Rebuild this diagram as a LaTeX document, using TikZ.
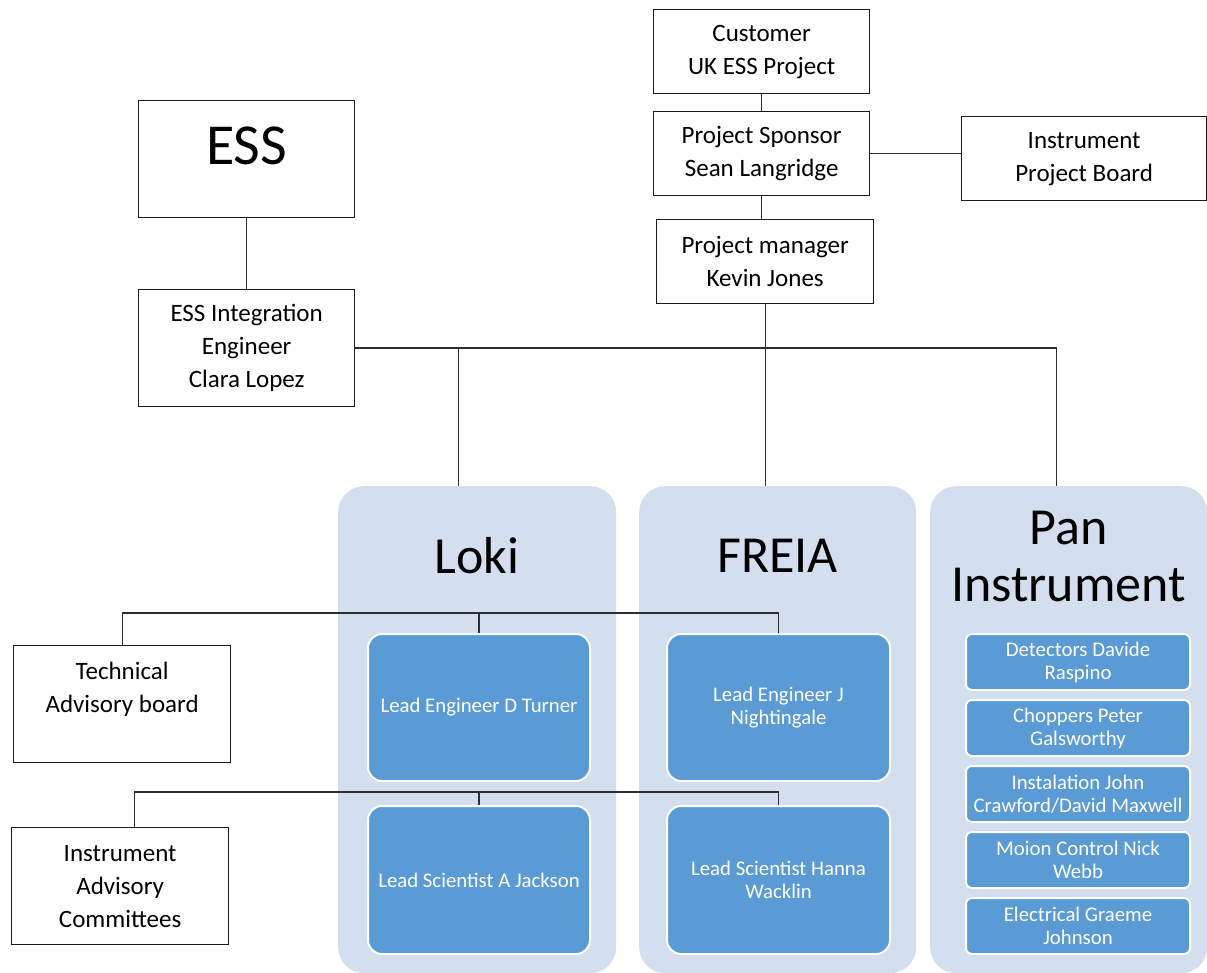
\documentclass[tikz,border=0pt]{standalone}
\usepackage{fontspec}
\setmainfont{Carlito}
\usetikzlibrary{positioning}
\definecolor{panelblue}{HTML}{D3DEEF}
\definecolor{tileblue}{HTML}{5B9BD5}
\definecolor{ink}{HTML}{1A1A1A}
\definecolor{rule}{HTML}{2E2E2E}

\begin{document}
\begin{tikzpicture}[x=1pt,y=-1pt,
    plainbox/.style={draw=ink,line width=1.3pt,fill=white,align=center,inner sep=0pt,
      anchor=north west,font=\fontsize{25}{33}\selectfont},
    panel/.style={fill=panelblue,rounded corners=26pt,inner sep=0pt,anchor=north west},
    tile/.style={fill=tileblue,draw=white,line width=2pt,rounded corners=14pt,align=center,
      text=white,inner sep=0pt,anchor=north west,font=\fontsize{20.8}{23}\selectfont},
    title/.style={font=\fontsize{52}{57}\selectfont,align=center},
    wire/.style={draw=rule,line width=1.3pt}]
    \useasboundingbox (0,0) rectangle (1207,973);

    % the three instrument panels, cut by the lower edge
    \node[panel,minimum width=278pt,minimum height=487pt] (loki) at (338,486) {};
    \node[panel,minimum width=277pt,minimum height=487pt] (freia) at (639,486) {};
    \node[panel,minimum width=277pt,minimum height=487pt] (pan) at (930,486) {};
    \node[title] (lokititle) at (477,556) {Loki};
    \node[title] (freiatitle) at (777.5,556) {FREIA};
    \node[title] (pantitle) at (1068.5,557) {Pan\\Instrument};

    % project chain at the top
    \node[plainbox,minimum width=216pt,minimum height=84pt] (cust) at (653,9) {Customer\\UK ESS Project};
    \node[plainbox,minimum width=216pt,minimum height=84pt] (spons) at (653,111) {Project Sponsor\\Sean Langridge};
    \node[plainbox,minimum width=245pt,minimum height=84pt] (board) at (961,116) {Instrument\\Project Board};
    \node[plainbox,minimum width=217pt,minimum height=84pt] (pm) at (656,219) {Project manager\\Kevin Jones};

    % ESS side; the big label sits high in its box
    \node[plainbox,minimum width=216pt,font=\fontsize{58}{60}\selectfont,
      text height=64pt,text depth=53pt] (ess) at (138,100) {ESS};
    \node[plainbox,minimum width=216pt,minimum height=117pt] (integ) at (138,289)
      {ESS Integration\\Engineer\\Clara Lopez};

    % advisory bodies on the left
    \node[plainbox,minimum width=217pt,minimum height=117pt] (tab) at (13,645)
      {Technical\\Advisory board\\~};
    \node[plainbox,minimum width=217pt,minimum height=117pt] (iac) at (11,827)
      {Instrument\\Advisory\\Committees};

    % leads inside Loki and FREIA
    \node[tile,minimum width=222pt,minimum height=147pt] (leng) at (367,633) {Lead Engineer D Turner};
    \node[tile,minimum width=222pt,minimum height=148pt] (lsci) at (367,805) {Lead Scientist A Jackson};
    \node[tile,minimum width=223pt,minimum height=147pt] (feng) at (666,633) {Lead Engineer J\\Nightingale};
    \node[tile,minimum width=223pt,minimum height=148pt] (fsci) at (666,805) {Lead Scientist Hanna\\Wacklin};

    % the Pan work packages, one under another
    \foreach \i/\y/\txt in {1/633/{Detectors Davide\\Raspino},
                            2/699/{Choppers Peter\\Galsworthy},
                            3/765/{Instalation John\\Crawford/David Maxwell},
                            4/831/{Moion Control Nick\\Webb},
                            5/897/{Electrical Graeme\\Johnson}}{
      \node[tile,minimum width=224pt,minimum height=56pt,rounded corners=6pt] (pan\i) at (965,\y) {\txt};}

    % reporting lines
    \draw[wire] (cust) -- (spons);
    \draw[wire] (spons.south) -- (spons.south |- pm.north);
    \draw[wire] (spons.east) -- (spons.east -| board.west);
    \draw[wire] (ess) -- (integ);
    \coordinate (pantap) at ([xshift=-12.5pt]pan.north);
    \coordinate (lokitap) at ([xshift=-19pt]loki.north);
    \draw[wire] (integ.east) -| (pantap);
    \draw[wire] (lokitap |- integ.east) -- (lokitap);
    \draw[wire] (pm.south) -- (pm.south |- freia.north);

    % the two advisory buses run across to the leads
    \coordinate (busa) at (125,613);
    \coordinate (busb) at (133,792);
    \draw[wire] (tab.north) |- (busa -| feng.north) -- (feng.north);
    \draw[wire] (leng.north |- busa) -- (leng.north);
    \draw[wire] ([xshift=14pt]iac.north) |- (busb -| fsci.north) -- (fsci.north);
    \draw[wire] (lsci.north |- busb) -- (lsci.north);
\end{tikzpicture}
\end{document}
